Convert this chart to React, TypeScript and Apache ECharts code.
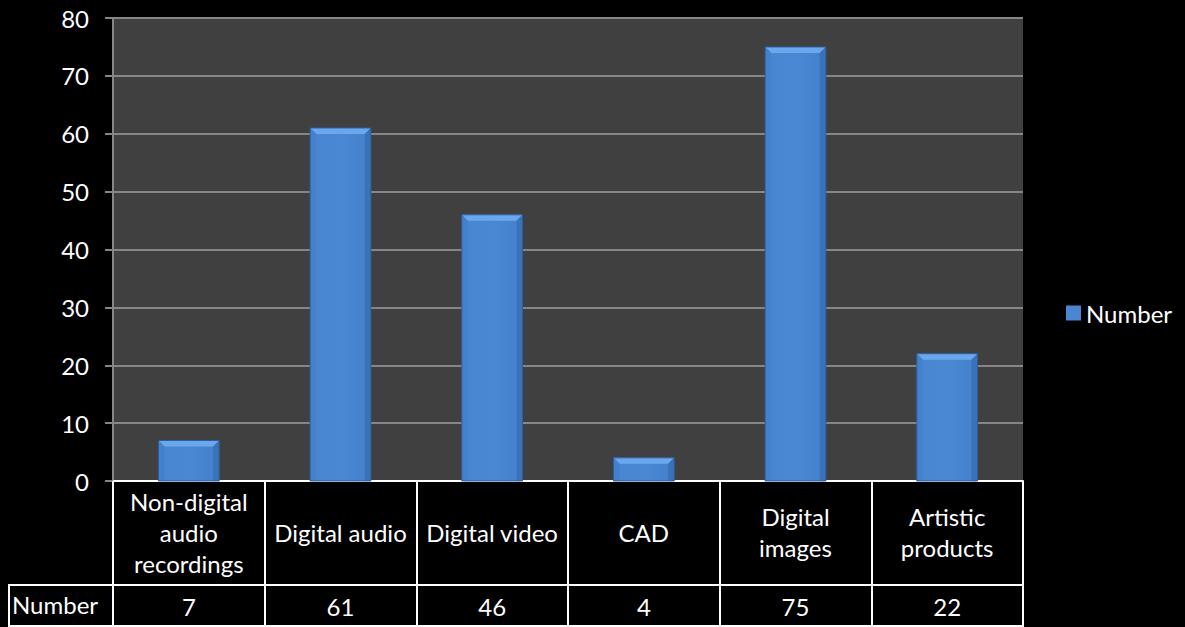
import React, { useEffect, useRef } from "react";
import * as echarts from "echarts";

const categories = [
  "Non-digital\naudio\nrecordings",
  "Digital audio",
  "Digital video",
  "CAD",
  "Digital\nimages",
  "Artistic\nproducts",
];
const values = [7, 61, 46, 4, 75, 22];
const seriesName = "Number";
const yTicks = { min: 0, max: 80, interval: 10 };

const FONT = "Lato, 'Open Sans', sans-serif";
const FS = 24;
const GRID = { left: 113, right: 162, top: 18, bottom: 146 };

export default function App() {
  const ref = useRef<HTMLDivElement>(null);
  useEffect(() => {
    if (!ref.current) return;
    const chart = echarts.init(ref.current, null, { renderer: "svg" });
    const W = 1185;
    const H = 627;
    const plotRight = W - GRID.right;
    const axisY = H - GRID.bottom;
    const rowY = 585;
    const bottomY = 626;
    chart.setOption({
      animation: false,
      backgroundColor: "#000000",
      textStyle: { fontFamily: FONT },
      grid: {
        left: GRID.left,
        right: GRID.right,
        top: GRID.top,
        bottom: GRID.bottom,
        show: true,
        backgroundColor: "#404040",
        borderWidth: 0,
      },
      legend: {
        orient: "vertical",
        left: 1061,
        top: 296,
        itemWidth: 15,
        itemHeight: 15,
        itemGap: 6,
        icon: "rect",
        textStyle: { color: "#ffffff", fontSize: FS, fontFamily: FONT },
        data: [{ name: seriesName, itemStyle: { color: "#4a86d1" } }],
      },
      xAxis: [
        {
          type: "category",
          data: categories,
          boundaryGap: true,
          axisLine: { show: true, lineStyle: { color: "#ffffff", width: 2 } },
          axisTick: {
            show: true,
            interval: 0,
            length: bottomY - axisY,
            lineStyle: { color: "#ffffff", width: 2 },
          },
          axisLabel: {
            interval: 0,
            color: "#ffffff",
            fontSize: FS,
            lineHeight: 31,
            margin: 51,
            verticalAlign: "middle",
            align: "center",
            fontFamily: FONT,
          },
          splitLine: { show: false },
        },
        {
          type: "category",
          data: categories,
          position: "bottom",
          boundaryGap: true,
          axisLine: { show: false },
          axisTick: { show: false },
          axisLabel: {
            interval: 0,
            color: "#ffffff",
            fontSize: FS,
            margin: 125,
            verticalAlign: "middle",
            align: "center",
            fontFamily: FONT,
            formatter: (_v: string, i: number) => String(values[i]),
          },
          splitLine: { show: false },
        },
      ],
      yAxis: {
        type: "value",
        min: yTicks.min,
        max: yTicks.max,
        interval: yTicks.interval,
        axisLine: { show: true, lineStyle: { color: "#868686", width: 2 } },
        axisTick: { show: true, length: 8, lineStyle: { color: "#868686", width: 2 } },
        axisLabel: { color: "#ffffff", fontSize: FS, margin: 24, fontFamily: FONT },
        splitLine: { show: true, lineStyle: { color: "#868686", width: 2 } },
      },
      series: [
        {
          name: seriesName,
          type: "custom",
          xAxisIndex: 0,
          yAxisIndex: 0,
          encode: { x: 0, y: 1 },
          data: values.map((v, i) => [i, v]),
          renderItem: (_params: any, api: any) => {
            const idx = api.value(0);
            const v = api.value(1);
            const top = api.coord([idx, v]);
            const base = api.coord([idx, 0]);
            const w = api.size([1, 0])[0] * 0.4;
            const x0 = top[0] - w / 2;
            const x1 = top[0] + w / 2;
            const y0 = top[1];
            const y1 = base[1];
            const b = Math.min(6, (y1 - y0) / 2);
            return {
              type: "group",
              children: [
                {
                  type: "rect",
                  shape: { x: x0, y: y0, width: w, height: y1 - y0 },
                  style: {
                    fill: new echarts.graphic.LinearGradient(0, 0, 1, 0, [
                      { offset: 0, color: "#4886d2" },
                      { offset: 0.5, color: "#4a88d4" },
                      { offset: 1, color: "#4280cc" },
                    ]),
                  },
                },
                {
                  type: "polygon",
                  shape: { points: [[x0, y0], [x1, y0], [x1 - b, y0 + b], [x0 + b, y0 + b]] },
                  style: { fill: "#6aa7ec" },
                },
                {
                  type: "polygon",
                  shape: { points: [[x0, y0], [x0 + b, y0 + b], [x0 + b, y1], [x0, y1]] },
                  style: { fill: "#4481cc" },
                },
                {
                  type: "polygon",
                  shape: { points: [[x1, y0], [x1, y1], [x1 - b, y1], [x1 - b, y0 + b]] },
                  style: { fill: "#3a72ba" },
                },
                {
                  type: "rect",
                  shape: { x: x0, y: y0, width: w, height: y1 - y0 },
                  style: { fill: "none", stroke: "#2d5d9c", lineWidth: 1 },
                },
              ],
            };
          },
        },
      ],
      graphic: [
        {
          type: "line",
          shape: { x1: 8, y1: rowY, x2: plotRight + 1, y2: rowY },
          style: { stroke: "#ffffff", lineWidth: 2 },
        },
        {
          type: "line",
          shape: { x1: 8, y1: bottomY, x2: plotRight + 1, y2: bottomY },
          style: { stroke: "#ffffff", lineWidth: 2 },
        },
        {
          type: "line",
          shape: { x1: 9, y1: rowY, x2: 9, y2: bottomY },
          style: { stroke: "#ffffff", lineWidth: 2 },
        },
        {
          type: "text",
          left: 12,
          top: 606 - 14,
          style: { text: seriesName, fill: "#ffffff", fontSize: FS, fontFamily: FONT },
        },
      ],
    });
    return () => chart.dispose();
  }, []);
  return (
    <div
      ref={ref}
      style={{ position: "fixed", left: 0, top: 0, width: 1185, height: 627 }}
    />
  );
}
